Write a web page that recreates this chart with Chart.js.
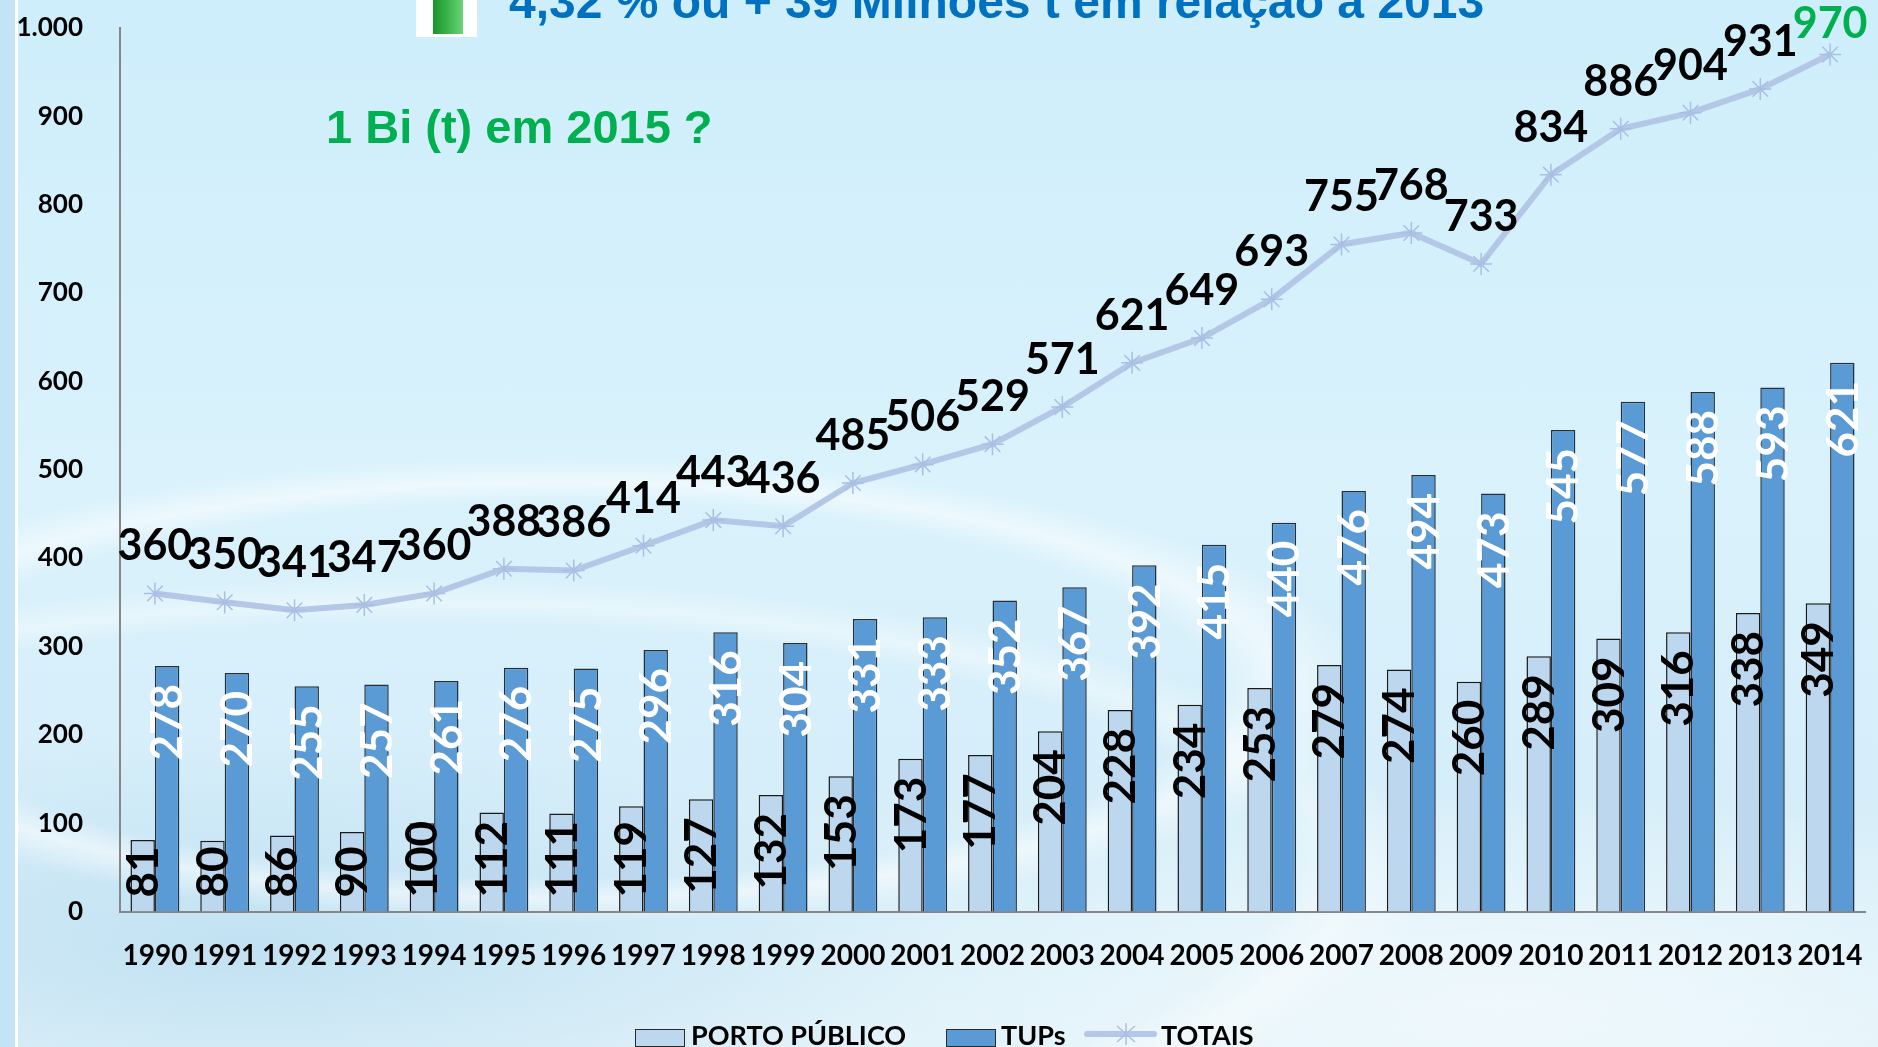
<!DOCTYPE html>
<html>
<head>
<meta charset="utf-8">
<script src="https://cdn.jsdelivr.net/npm/chart.js@4.4.1/dist/chart.umd.min.js"></script>
<style>
  html, body { margin: 0; padding: 0; }
  body {
    width: 1878px; height: 1047px; overflow: hidden; position: relative;
    background:
      linear-gradient(90deg, #C3E4F5 0, #C3E4F5 15px, #ffffff 15px, #ffffff 18px, rgba(255,255,255,0) 18px),
      radial-gradient(ellipse 900px 260px at 560px 690px, rgba(255,255,255,0) 72%, rgba(255,255,255,0.55) 80%, rgba(255,255,255,0) 90%),
      radial-gradient(ellipse 1100px 330px at 420px 880px, rgba(255,255,255,0) 78%, rgba(255,255,255,0.4) 84%, rgba(255,255,255,0) 92%),
      radial-gradient(ellipse 1000px 300px at 250px 950px, rgba(140,195,228,0.35), rgba(140,195,228,0) 70%),
      radial-gradient(ellipse 900px 300px at 1500px 1000px, rgba(255,255,255,0.5), rgba(255,255,255,0) 70%),
      linear-gradient(180deg, #CEEEFB 0%, #D9F2FC 45%, #D6EEF9 75%, #E2F3FA 100%);
  }
  #chart { position: absolute; left: 0; top: 0; }
  .txt { position: absolute; white-space: nowrap; line-height: 1; font-weight: bold; }
  #title { left: 509px; top: -22px; font-family: "Liberation Sans", Arial, sans-serif; font-size: 48px; color: #0070C0; }
  #note { left: 326px; top: 103px; font-family: "Liberation Sans", Arial, sans-serif; font-size: 47px; color: #00B050; }
  #icon { position: absolute; left: 416px; top: 0; width: 61px; height: 37px; background: #fff; }
  #icon div { position: absolute; left: 17px; top: 0; width: 30px; height: 34px;
    background: linear-gradient(90deg, #17952A, #3DB54C 50%, #6BD57A); }
  .box { position: absolute; top: 1029px; width: 48px; height: 16px; border: 1.5px solid #2a2a2a; }
  .leg { position: absolute; top: 1021px; font-family: Lato, sans-serif; font-size: 27px; font-weight: bold; color: #000; line-height: 1; white-space: nowrap; }
  #sw { position: absolute; left: 1084px; top: 1022px; }
</style>
</head>
<body>
<canvas id="chart" width="1878" height="1047"></canvas>
<div id="icon"><div></div></div>
<div class="txt" id="title">4,32 % ou + 39 Milhões t em relação a 2013</div>
<div class="txt" id="note">1 Bi (t) em 2015 ?</div>

<div class="box" style="left:635px;background:#BDD7EE"></div>
<div class="leg" style="left:691px">PORTO PÚBLICO</div>
<div class="box" style="left:946px;background:#5B9BD5"></div>
<div class="leg" style="left:1001px">TUPs</div>
<svg id="sw" width="74" height="24">
  <line x1="3" y1="12" x2="70" y2="12" stroke="#B4C7E7" stroke-width="6" stroke-linecap="round"/>
  <g stroke="#A9BFE3" stroke-width="1.5">
    <line x1="42" y1="1" x2="42" y2="23"/>
    <line x1="33" y1="4" x2="51" y2="20"/>
    <line x1="51" y1="4" x2="33" y2="20"/>
  </g>
</svg>
<div class="leg" style="left:1161px">TOTAIS</div>

<script>
// dados (milhões de toneladas)
const anos = ['1990','1991','1992','1993','1994','1995','1996','1997','1998','1999','2000','2001','2002',
  '2003','2004','2005','2006','2007','2008','2009','2010','2011','2012','2013','2014'];
const portoPublico = [81, 80, 86, 90, 100, 112, 111, 119, 127, 132, 153, 173, 177, 204, 228, 234, 253, 279, 274, 260, 289, 309, 316, 338, 349];
const tups = [278, 270, 255, 257, 261, 276, 275, 296, 316, 304, 331, 333, 352, 367, 392, 415, 440, 476, 494, 473, 545, 577, 588, 593, 621];
const totais = [360, 350, 341, 347, 360, 388, 386, 414, 443, 436, 485, 506, 529, 571, 621, 649, 693, 755, 768, 733, 834, 886, 904, 931, 970];

// rótulos de valores (barras giradas e linha)
const rotulos = {
  id: 'rotulos',
  afterDatasetsDraw(chart) {
    const ctx = chart.ctx;
    const base = chart.scales.y.getPixelForValue(0);
    ctx.save();
    ctx.font = 'bold 44px Lato';

    [0, 1].forEach(di => {
      const meta = chart.getDatasetMeta(di);
      meta.data.forEach((bar, i) => {
        const txt = String(chart.data.datasets[di].data[i]);
        const len = ctx.measureText(txt).width;
        let end = bar.y + 18;
        if (end + len > base - 14) end = base - 14 - len;
        ctx.save();
        ctx.translate(bar.x + 1, end);
        ctx.rotate(-Math.PI / 2);
        ctx.textAlign = 'right';
        ctx.textBaseline = 'middle';
        ctx.fillStyle = di === 0 ? '#000' : '#fff';
        ctx.fillText(txt, 0, 0);
        ctx.restore();
      });
    });

    const linha = chart.getDatasetMeta(2);
    ctx.font = 'bold 43px Lato';
    ctx.textAlign = 'center';
    ctx.textBaseline = 'alphabetic';
    linha.data.forEach((pt, i) => {
      const y = Math.max(pt.y - 33, 38);
      ctx.fillStyle = i === totais.length - 1 ? '#00B050' : '#000';
      ctx.fillText(String(totais[i]), pt.x, y);
    });
    ctx.restore();
  }
};

const ctx = document.getElementById('chart').getContext('2d');
new Chart(ctx, {
  type: 'bar',
  data: {
    labels: anos,
    datasets: [
      {
        label: 'PORTO PÚBLICO',
        data: portoPublico,
        backgroundColor: '#BDD7EE',
        borderColor: '#1A1A1A',
        borderWidth: 1.5,
        categoryPercentage: 0.70,
        barPercentage: 1.0,
        order: 1
      },
      {
        label: 'TUPs',
        data: tups,
        backgroundColor: '#5B9BD5',
        borderColor: '#24303C',
        borderWidth: 1.5,
        categoryPercentage: 0.70,
        barPercentage: 1.0,
        order: 1
      },
      {
        type: 'line',
        label: 'TOTAIS',
        data: totais,
        borderColor: '#B4C7E7',
        borderWidth: 6,
        pointStyle: 'star',
        pointRadius: 11,
        pointBorderColor: '#A9BFE3',
        pointBackgroundColor: '#A9BFE3',
        pointBorderWidth: 1.5,
        tension: 0,
        order: 0
      }
    ]
  },
  options: {
    responsive: false,
    animation: false,
    layout: { padding: { top: 28, right: 13, left: 0, bottom: 0 } },
    plugins: {
      legend: { display: false },
      tooltip: { enabled: false }
    },
    scales: {
      x: {
        grid: { display: false, drawTicks: false },
        border: { display: true, color: '#878787', width: 2 },
        ticks: {
          color: '#000',
          padding: 28,
          autoSkip: false,
          maxRotation: 0,
          minRotation: 0,
          font: { family: 'Lato', weight: 'bold', size: 28 }
        },
        afterFit(scale) {
          scale.height = 135.5;
          scale.paddingLeft = 0;
          scale.paddingRight = 0;
        }
      },
      y: {
        min: 0,
        max: 1000,
        grid: { display: false, drawTicks: false },
        border: { display: true, color: '#878787', width: 2 },
        ticks: {
          stepSize: 100,
          color: '#000',
          padding: 37,
          font: { family: 'Lato', weight: 'bold', size: 26 },
          callback: v => v === 1000 ? '1.000' : v
        },
        afterFit(scale) {
          scale.width = 120;
          scale.paddingTop = 0;
          scale.paddingBottom = 0;
        }
      }
    }
  },
  plugins: [rotulos]
});
</script>
</body>
</html>
